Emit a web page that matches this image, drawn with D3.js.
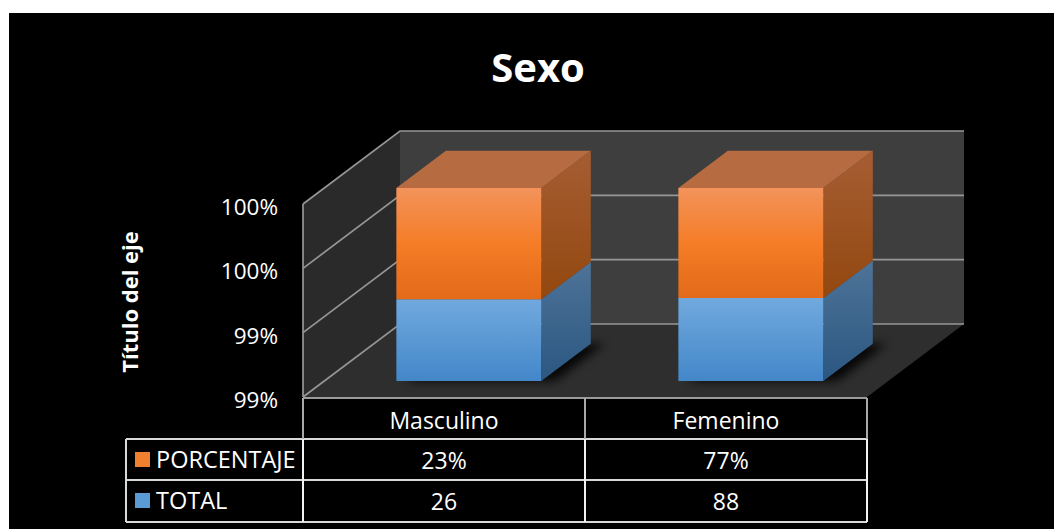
<!DOCTYPE html>
<html>
<head>
<meta charset="utf-8">
<script src="https://cdn.jsdelivr.net/npm/d3@7/dist/d3.min.js"></script>
<style>
  html, body { margin: 0; padding: 0; background: #ffffff; }
  svg { display: block; font-family: "Open Sans", "Noto Sans", sans-serif; }
</style>
</head>
<body>
<svg id="chart" width="1054" height="529"></svg>
<script>
// ---- data ----
const title = "Sexo";
const axisTitle = "Título del eje";
const categories = ["Masculino", "Femenino"];
const seriesNames = ["TOTAL", "PORCENTAJE"];
const totalValues = [26, 88];
const percentValues = [0.23, 0.77];
const tickLabels = ["99%", "99%", "100%", "100%"];
const yMin = 0.9848;   // visible bottom of the value axis (100% stacked)
const yMax = 1.0;

// ---- layout ----
const W = 1054, H = 529;
const plot = { left: 303, right: 867, bottom: 397, top: 204 };
const depth = { dx: 97, dy: -73 };
const barDepth = [0.22, 0.73];
const barShift = 3.5;

const svg = d3.select("#chart");
const defs = svg.append("defs");

function grad(id, stops, x2, y2) {
  const g = defs.append("linearGradient").attr("id", id)
    .attr("x1", 0).attr("y1", 0).attr("x2", x2 || 0).attr("y2", y2 === undefined ? 1 : y2);
  stops.forEach(s => g.append("stop").attr("offset", s[0]).attr("stop-color", s[1]));
}
grad("orFront", [[0, "#f3935b"], [0.5, "#f57d27"], [1, "#e26a19"]]);
grad("orSide", [[0, "#a65d33"], [1, "#93480f"]]);
grad("blFront", [[0, "#71a9de"], [1, "#4387c9"]]);
grad("blSide", [[0, "#4e7398"], [1, "#2b5781"]]);
defs.append("filter").attr("id", "blur").attr("x", "-50%").attr("y", "-50%").attr("width", "200%").attr("height", "200%")
  .append("feGaussianBlur").attr("stdDeviation", 5);

// background
svg.append("rect").attr("x", 9).attr("y", 13).attr("width", W - 9).attr("height", H - 13).attr("fill", "#000");

// scales
const x = d3.scaleBand().domain(categories).range([plot.left, plot.right])
  .paddingInner(0.486).paddingOuter(0.243);
const y = d3.scaleLinear().domain([yMin, yMax]).range([plot.bottom, plot.top]);
const tickValues = d3.range(tickLabels.length).map(i => yMin + i * (yMax - yMin) / (tickLabels.length - 1));

function P(xf, yf, d) { return [xf + d * depth.dx, yf + d * depth.dy]; }
function poly(pts) { return pts.map(p => p.join(",")).join(" "); }

// walls & floor
const g3 = svg.append("g");
g3.append("polygon").attr("fill", "#2e2e2e")
  .attr("points", poly([P(plot.left, plot.bottom, 0), P(plot.right, plot.bottom, 0), P(plot.right, plot.bottom, 1), P(plot.left, plot.bottom, 1)]));
g3.append("polygon").attr("fill", "#2a2a2a")
  .attr("points", poly([P(plot.left, plot.bottom, 0), P(plot.left, plot.top, 0), P(plot.left, plot.top, 1), P(plot.left, plot.bottom, 1)]));
g3.append("polygon").attr("fill", "#3e3e3e")
  .attr("points", poly([P(plot.left, plot.bottom, 1), P(plot.left, plot.top, 1), P(plot.right, plot.top, 1), P(plot.right, plot.bottom, 1)]));

// gridlines
const gridColor = "#969696";
tickValues.forEach(v => {
  const yy = y(v);
  const a = P(plot.left, yy, 0), b = P(plot.left, yy, 1), c = P(plot.right, yy, 1);
  g3.append("polyline").attr("points", poly([a, b, c])).attr("fill", "none")
    .attr("stroke", gridColor).attr("stroke-width", 1.7);
});
g3.append("line").attr("x1", plot.left).attr("x2", plot.left).attr("y1", plot.top).attr("y2", plot.bottom)
  .attr("stroke", gridColor).attr("stroke-width", 1.7);

// tick labels
svg.append("g").selectAll("text").data(tickValues).join("text")
  .attr("x", 278).attr("y", d => y(d) + 11)
  .attr("text-anchor", "end").attr("fill", "#fff").attr("font-size", 22.5)
  .text((d, i) => tickLabels[i]);

// axis title
svg.append("text").attr("transform", "translate(138,302) rotate(-90)")
  .attr("text-anchor", "middle").attr("fill", "#fff").attr("font-size", 22).attr("font-weight", "bold")
  .text(axisTitle);

// title
svg.append("text").attr("x", 538).attr("y", 82).attr("text-anchor", "middle")
  .attr("fill", "#fff").attr("font-size", 40).attr("font-weight", "bold").text(title);

// stacked data (100% stacked)
const rows = categories.map((c, i) => ({ cat: c, TOTAL: totalValues[i], PORCENTAJE: percentValues[i] }));
const stacked = d3.stack().keys(seriesNames).offset(d3.stackOffsetExpand)(rows);
const fills = { TOTAL: ["url(#blFront)", "url(#blSide)", "#5b8fc2"], PORCENTAJE: ["url(#orFront)", "url(#orSide)", "#b76b41"] };

// shadows
const gBars = svg.append("g");
categories.forEach(c => {
  const x0 = x(c) + barShift, x1 = x0 + x.bandwidth();
  const d0 = barDepth[0], d1 = barDepth[1];
  gBars.append("polygon").attr("fill", "#000").attr("opacity", 0.85).attr("filter", "url(#blur)")
    .attr("points", poly([P(x0 + 10, plot.bottom, d0), P(x1 + 14, plot.bottom, d0), P(x1 + 14, plot.bottom, d1), P(x0 + 10, plot.bottom, d1)]));
});

// bars
stacked.forEach((layer, si) => {
  layer.forEach((seg, ci) => {
    const c = categories[ci];
    const x0 = x(c) + barShift, x1 = x0 + x.bandwidth();
    const lo = y(Math.max(seg[0], yMin)), hi = y(Math.min(seg[1], yMax));
    const d0 = barDepth[0], d1 = barDepth[1];
    const f = fills[layer.key];
    gBars.append("polygon").attr("fill", f[1])
      .attr("points", poly([P(x1, hi, d0), P(x1, hi, d1), P(x1, lo, d1), P(x1, lo, d0)]));
    gBars.append("polygon").attr("fill", f[0])
      .attr("points", poly([P(x0, hi, d0), P(x1, hi, d0), P(x1, lo, d0), P(x0, lo, d0)]));
    if (si === stacked.length - 1) {
      gBars.append("polygon").attr("fill", f[2])
        .attr("points", poly([P(x0, hi, d0), P(x1, hi, d0), P(x1, hi, d1), P(x0, hi, d1)]));
    }
  });
});

// data table
const tbl = svg.append("g");
const tableLeft = 126, rowH = 41, hdrTop = 398;
const rowTops = [hdrTop, hdrTop + rowH, hdrTop + rowH * 2, hdrTop + rowH * 3 + 1];
const lineCol = "#d9d9d9";
const colEdges = [plot.left, ...categories.map(c => x(c) + x.bandwidth() / 2 + x.step() / 2)];
// horizontal lines
tbl.append("line").attr("x1", plot.left).attr("x2", plot.right).attr("y1", rowTops[0]).attr("y2", rowTops[0]).attr("stroke", "#9a9a9a").attr("stroke-width", 2);
[1, 2, 3].forEach(i => tbl.append("line").attr("x1", tableLeft).attr("x2", plot.right)
  .attr("y1", rowTops[i]).attr("y2", rowTops[i]).attr("stroke", lineCol).attr("stroke-width", 2));
// vertical lines
tbl.append("line").attr("x1", tableLeft).attr("x2", tableLeft).attr("y1", rowTops[1]).attr("y2", rowTops[3]).attr("stroke", lineCol).attr("stroke-width", 2);
colEdges.forEach((cx, i) => {
  tbl.append("line").attr("x1", cx).attr("x2", cx).attr("y1", rowTops[0]).attr("y2", rowTops[1])
    .attr("stroke", "#a8a8a8").attr("stroke-width", 2);
  tbl.append("line").attr("x1", cx).attr("x2", cx).attr("y1", rowTops[1]).attr("y2", rowTops[3])
    .attr("stroke", "#f2f2f2").attr("stroke-width", 2);
});
// header labels
categories.forEach(c => {
  tbl.append("text").attr("x", x(c) + x.bandwidth() / 2).attr("y", rowTops[0] + 31)
    .attr("text-anchor", "middle").attr("fill", "#fff").attr("font-size", 23).text(c);
});
// rows: PORCENTAJE then TOTAL
const tableRows = [
  { name: "PORCENTAJE", color: "#f07f2f", values: percentValues.map(d3.format(".0%")) },
  { name: "TOTAL", color: "#5b9bd5", values: totalValues.map(String) }
];
tableRows.forEach((r, i) => {
  const top = rowTops[i + 1];
  tbl.append("rect").attr("x", 135).attr("y", top + 13).attr("width", 15).attr("height", 15).attr("fill", r.color);
  tbl.append("text").attr("x", 156).attr("y", top + 29).attr("fill", "#fff").attr("font-size", 23.5).text(r.name);
  categories.forEach((c, ci) => {
    tbl.append("text").attr("x", x(c) + x.bandwidth() / 2).attr("y", top + 30)
      .attr("text-anchor", "middle").attr("fill", "#fff").attr("font-size", 23).text(r.values[ci]);
  });
});
</script>
</body>
</html>
